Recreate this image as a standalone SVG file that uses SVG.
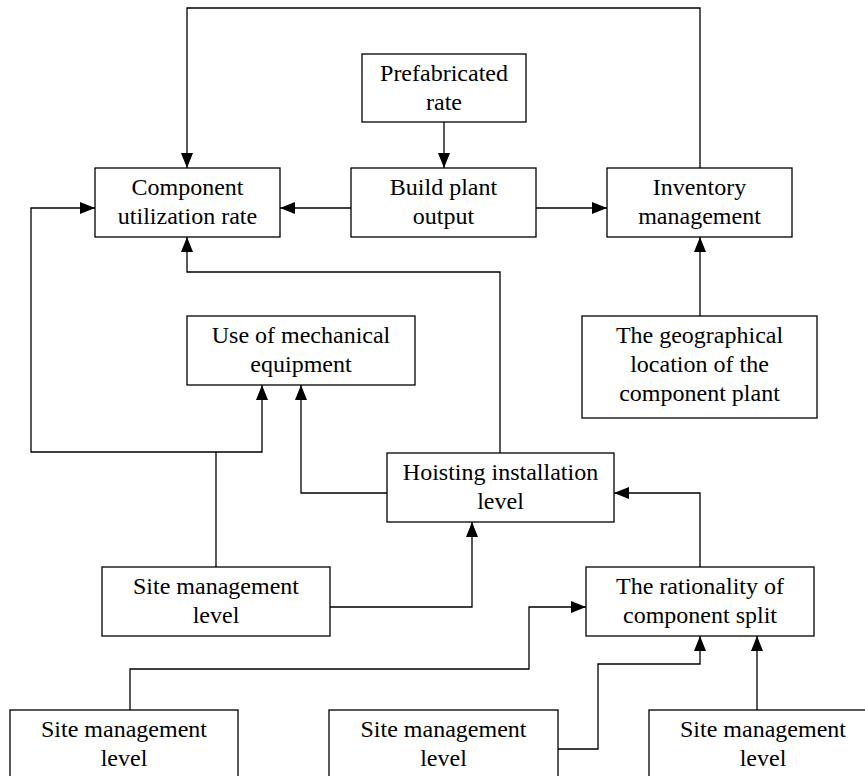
<svg xmlns="http://www.w3.org/2000/svg" width="865" height="776" viewBox="0 0 865 776">
<style>
.box{fill:#fff;stroke:#000;stroke-width:1.3}
.t{font-family:"Liberation Serif","Times New Roman",serif;font-size:24px;fill:#000;text-anchor:middle}
.c{fill:none;stroke:#000;stroke-width:1.3}
</style>
<defs>
<marker id="a" viewBox="0 0 15 12" refX="15" refY="6" markerWidth="15" markerHeight="12" markerUnits="userSpaceOnUse" orient="auto">
<path d="M0,0 L15,6 L0,12 z" fill="#000"/>
</marker>
</defs>
<rect width="865" height="776" fill="#fff"/>
<g id="connectors">
<path class="c" d="M444,122 V168" marker-end="url(#a)"/>
<path class="c" d="M351,208 H280" marker-end="url(#a)"/>
<path class="c" d="M536,208 H607" marker-end="url(#a)"/>
<path class="c" d="M700,168 V8 H187 V168" marker-end="url(#a)"/>
<path class="c" d="M500,453 V272 H187 V237" marker-end="url(#a)"/>
<path class="c" d="M216,567 V452 H31 V208 H95" marker-end="url(#a)"/>
<path class="c" d="M216,452 H262 V385" marker-end="url(#a)"/>
<path class="c" d="M387,493 H301 V385" marker-end="url(#a)"/>
<path class="c" d="M700,316 V237" marker-end="url(#a)"/>
<path class="c" d="M330,607 H472 V522" marker-end="url(#a)"/>
<path class="c" d="M700,567 V493 H614" marker-end="url(#a)"/>
<path class="c" d="M130,710 V669 H529 V607 H586" marker-end="url(#a)"/>
<path class="c" d="M558,749 H598 V664 H700 V636" marker-end="url(#a)"/>
<path class="c" d="M757,710 V636" marker-end="url(#a)"/>
</g>
<g id="prefab">
<rect class="box" x="362" y="54" width="164" height="68"/>
<text class="t" x="444" y="81">Prefabricated</text>
<text class="t" x="444" y="110">rate</text>
</g>
<g id="component">
<rect class="box" x="95" y="168" width="185" height="69"/>
<text class="t" x="187.5" y="195">Component</text>
<text class="t" x="187.5" y="224">utilization rate</text>
</g>
<g id="build">
<rect class="box" x="351" y="168" width="185" height="69"/>
<text class="t" x="443.5" y="195">Build plant</text>
<text class="t" x="443.5" y="224">output</text>
</g>
<g id="inventory">
<rect class="box" x="607" y="168" width="185" height="69"/>
<text class="t" x="699.5" y="195">Inventory</text>
<text class="t" x="699.5" y="224">management</text>
</g>
<g id="mechanical">
<rect class="box" x="187" y="316" width="228" height="69"/>
<text class="t" x="301" y="343">Use of mechanical</text>
<text class="t" x="301" y="372">equipment</text>
</g>
<g id="geo">
<rect class="box" x="582" y="316" width="235" height="102"/>
<text class="t" x="699.5" y="343">The geographical</text>
<text class="t" x="699.5" y="372">location of the</text>
<text class="t" x="699.5" y="401">component plant</text>
</g>
<g id="hoisting">
<rect class="box" x="387" y="453" width="227" height="69"/>
<text class="t" x="500.5" y="480">Hoisting installation</text>
<text class="t" x="500.5" y="509">level</text>
</g>
<g id="site-mid">
<rect class="box" x="102" y="567" width="228" height="69"/>
<text class="t" x="216" y="594">Site management</text>
<text class="t" x="216" y="623">level</text>
</g>
<g id="rationality">
<rect class="box" x="586" y="567" width="228" height="69"/>
<text class="t" x="700" y="594">The rationality of</text>
<text class="t" x="700" y="623">component split</text>
</g>
<g id="site-bl">
<rect class="box" x="10" y="710" width="228" height="70"/>
<text class="t" x="124" y="737">Site management</text>
<text class="t" x="124" y="766">level</text>
</g>
<g id="site-bm">
<rect class="box" x="329" y="710" width="229" height="70"/>
<text class="t" x="443.5" y="737">Site management</text>
<text class="t" x="443.5" y="766">level</text>
</g>
<g id="site-br">
<rect class="box" x="649" y="710" width="228" height="70"/>
<text class="t" x="763" y="737">Site management</text>
<text class="t" x="763" y="766">level</text>
</g>
</svg>
